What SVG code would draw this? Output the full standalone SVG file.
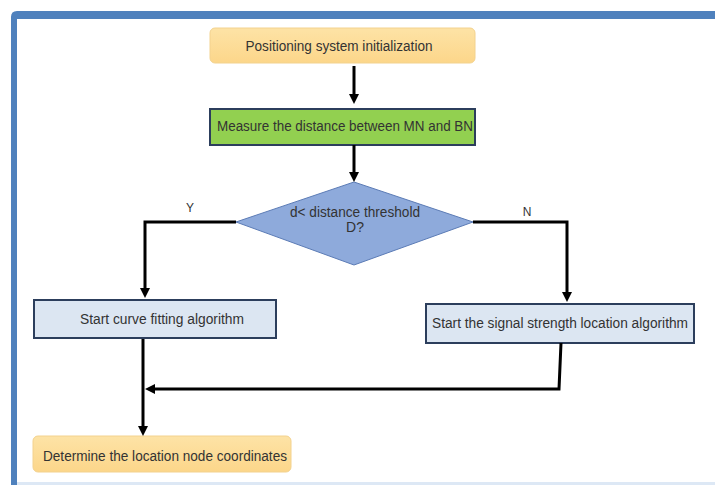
<svg xmlns="http://www.w3.org/2000/svg" width="715" height="485" viewBox="0 0 715 485">
<defs>
<linearGradient id="gOrange" x1="0" y1="0" x2="0" y2="1">
<stop offset="0" stop-color="#fde3a6"/>
<stop offset="1" stop-color="#fcd68a"/>
</linearGradient>
<marker id="arr" viewBox="0 0 10 10" markerWidth="10" markerHeight="10" refX="3" refY="5" orient="auto" markerUnits="userSpaceOnUse">
<path d="M0,0 L10,5 L0,10 z" fill="#000"/>
</marker>
</defs>
<style>
.txt{font-family:"Liberation Sans","Noto Sans",Arial,sans-serif;font-size:14px;fill:#333}
.lbl{font-family:"Liberation Sans","Noto Sans",Arial,sans-serif;font-size:12px;fill:#333}
.term{fill:url(#gOrange);stroke:#f3d28e;stroke-width:1}
.proc{fill:#dce6f2;stroke:#2c3e5c;stroke-width:2}
.conn{fill:none;stroke:#000;stroke-width:3}
</style>
<rect x="0" y="0" width="715" height="485" fill="#ffffff"/>
<g id="frame">
<path d="M11,485 L11,17 Q11,11 17,11 L715,11 L715,19 L17,19 L17,485 Z" fill="#4f81bd"/>
<rect x="17" y="482" width="698" height="3" fill="#dde8f5"/>
</g>
<g id="n-init">
<rect class="term" x="210" y="28" width="265" height="35" rx="5"/>
<text class="txt" x="339" y="51" text-anchor="middle" textLength="187" lengthAdjust="spacingAndGlyphs">Positioning system initialization</text>
</g>
<g id="n-measure">
<rect x="210" y="109" width="265" height="36" fill="#92d050" stroke="#2c3e5c" stroke-width="2"/>
<text class="txt" x="345" y="131" text-anchor="middle" textLength="256" lengthAdjust="spacingAndGlyphs">Measure the distance between MN and BN</text>
</g>
<g id="n-decision">
<polygon points="354,182 473,222 354,265 236,222" fill="#8eaadb" stroke="#5b7bb5" stroke-width="1"/>
<text class="txt" x="355" y="217" text-anchor="middle" textLength="130" lengthAdjust="spacingAndGlyphs">d&lt; distance threshold</text>
<text class="txt" x="355" y="232" text-anchor="middle">D?</text>
</g>
<g id="n-curve">
<rect class="proc" x="34" y="300" width="242" height="38"/>
<text class="txt" x="162" y="324" text-anchor="middle" textLength="164" lengthAdjust="spacingAndGlyphs">Start curve fitting algorithm</text>
</g>
<g id="n-signal">
<rect class="proc" x="426" y="304" width="268" height="39"/>
<text class="txt" x="560" y="328" text-anchor="middle" textLength="256" lengthAdjust="spacingAndGlyphs">Start the signal strength location algorithm</text>
</g>
<g id="n-result">
<rect class="term" x="33" y="436" width="258" height="36" rx="5"/>
<text class="txt" x="43" y="461" textLength="244" lengthAdjust="spacingAndGlyphs">Determine the location node coordinates</text>
</g>
<g id="connectors">
<path class="conn" d="M354,66 L354,97" marker-end="url(#arr)"/>
<path class="conn" d="M354,145 L354,175" marker-end="url(#arr)"/>
<path class="conn" d="M236,222 L145,222 L145,291" marker-end="url(#arr)"/>
<path class="conn" d="M473,222 L567,222 L567,295" marker-end="url(#arr)"/>
<path class="conn" d="M561,343 L559,389 L152,389" marker-end="url(#arr)"/>
<path class="conn" d="M143,339 L143,429" marker-end="url(#arr)"/>
<text class="lbl" x="190" y="212" text-anchor="middle">Y</text>
<text class="lbl" x="527" y="216" text-anchor="middle">N</text>
</g>
</svg>
